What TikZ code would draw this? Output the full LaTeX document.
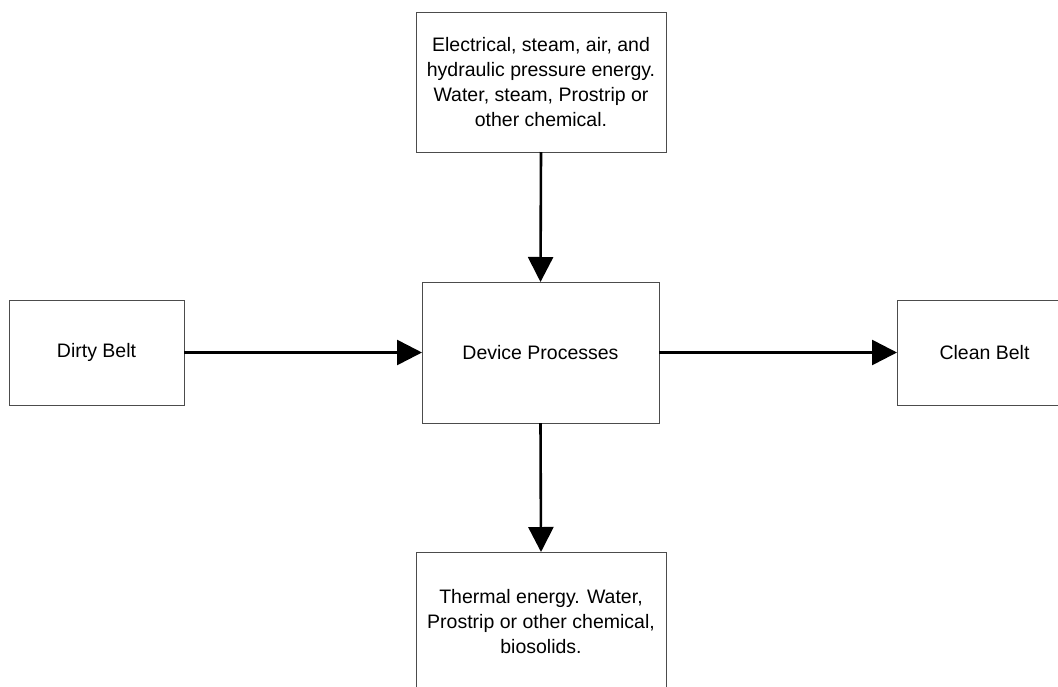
\documentclass[tikz,border=0pt]{standalone}
\usepackage{fontspec}
\setmainfont{Liberation Sans}
\usetikzlibrary{arrows.meta}
\begin{document}
\begin{tikzpicture}[x=1pt,y=-1pt,
  box/.style={draw=black!70, line width=1pt, fill=white, rectangle, inner sep=0pt, outer sep=0pt, align=center,
    font=\fontsize{19.5}{25}\selectfont},
  flow/.style={line width=2.6pt, -{Triangle[length=25pt,width=25pt]}}]
\useasboundingbox (0,0) rectangle (1058,686);
\clip (0,0) rectangle (1058,686);
\node[box, minimum width=250pt, minimum height=140pt] (top) at (541,82)
  {Electrical, steam, air, and\\hydraulic pressure energy.\\Water, steam, Prostrip or\\other chemical.};
\node[box, minimum width=175pt, minimum height=105pt] (dirty) at (96.5,352.5) {Dirty Belt};
\node[box, minimum width=237pt, minimum height=141pt] (dev) at (540.5,352.5) {Device Processes};
\node[box, minimum width=175pt, minimum height=105pt] (clean) at (984.5,352.5) {Clean Belt};
\node[box, minimum width=250pt, minimum height=140pt] (bot) at (541,622)
  {Thermal energy. Water,\\Prostrip or other chemical,\\biosolids.};
\draw[flow] (top.south) -- (dev.north);
\draw[flow] (dirty.east) -- (dev.west);
\draw[flow] (dev.east) -- (clean.west);
\draw[flow] (dev.south) -- (bot.north);
\end{tikzpicture}
\end{document}
